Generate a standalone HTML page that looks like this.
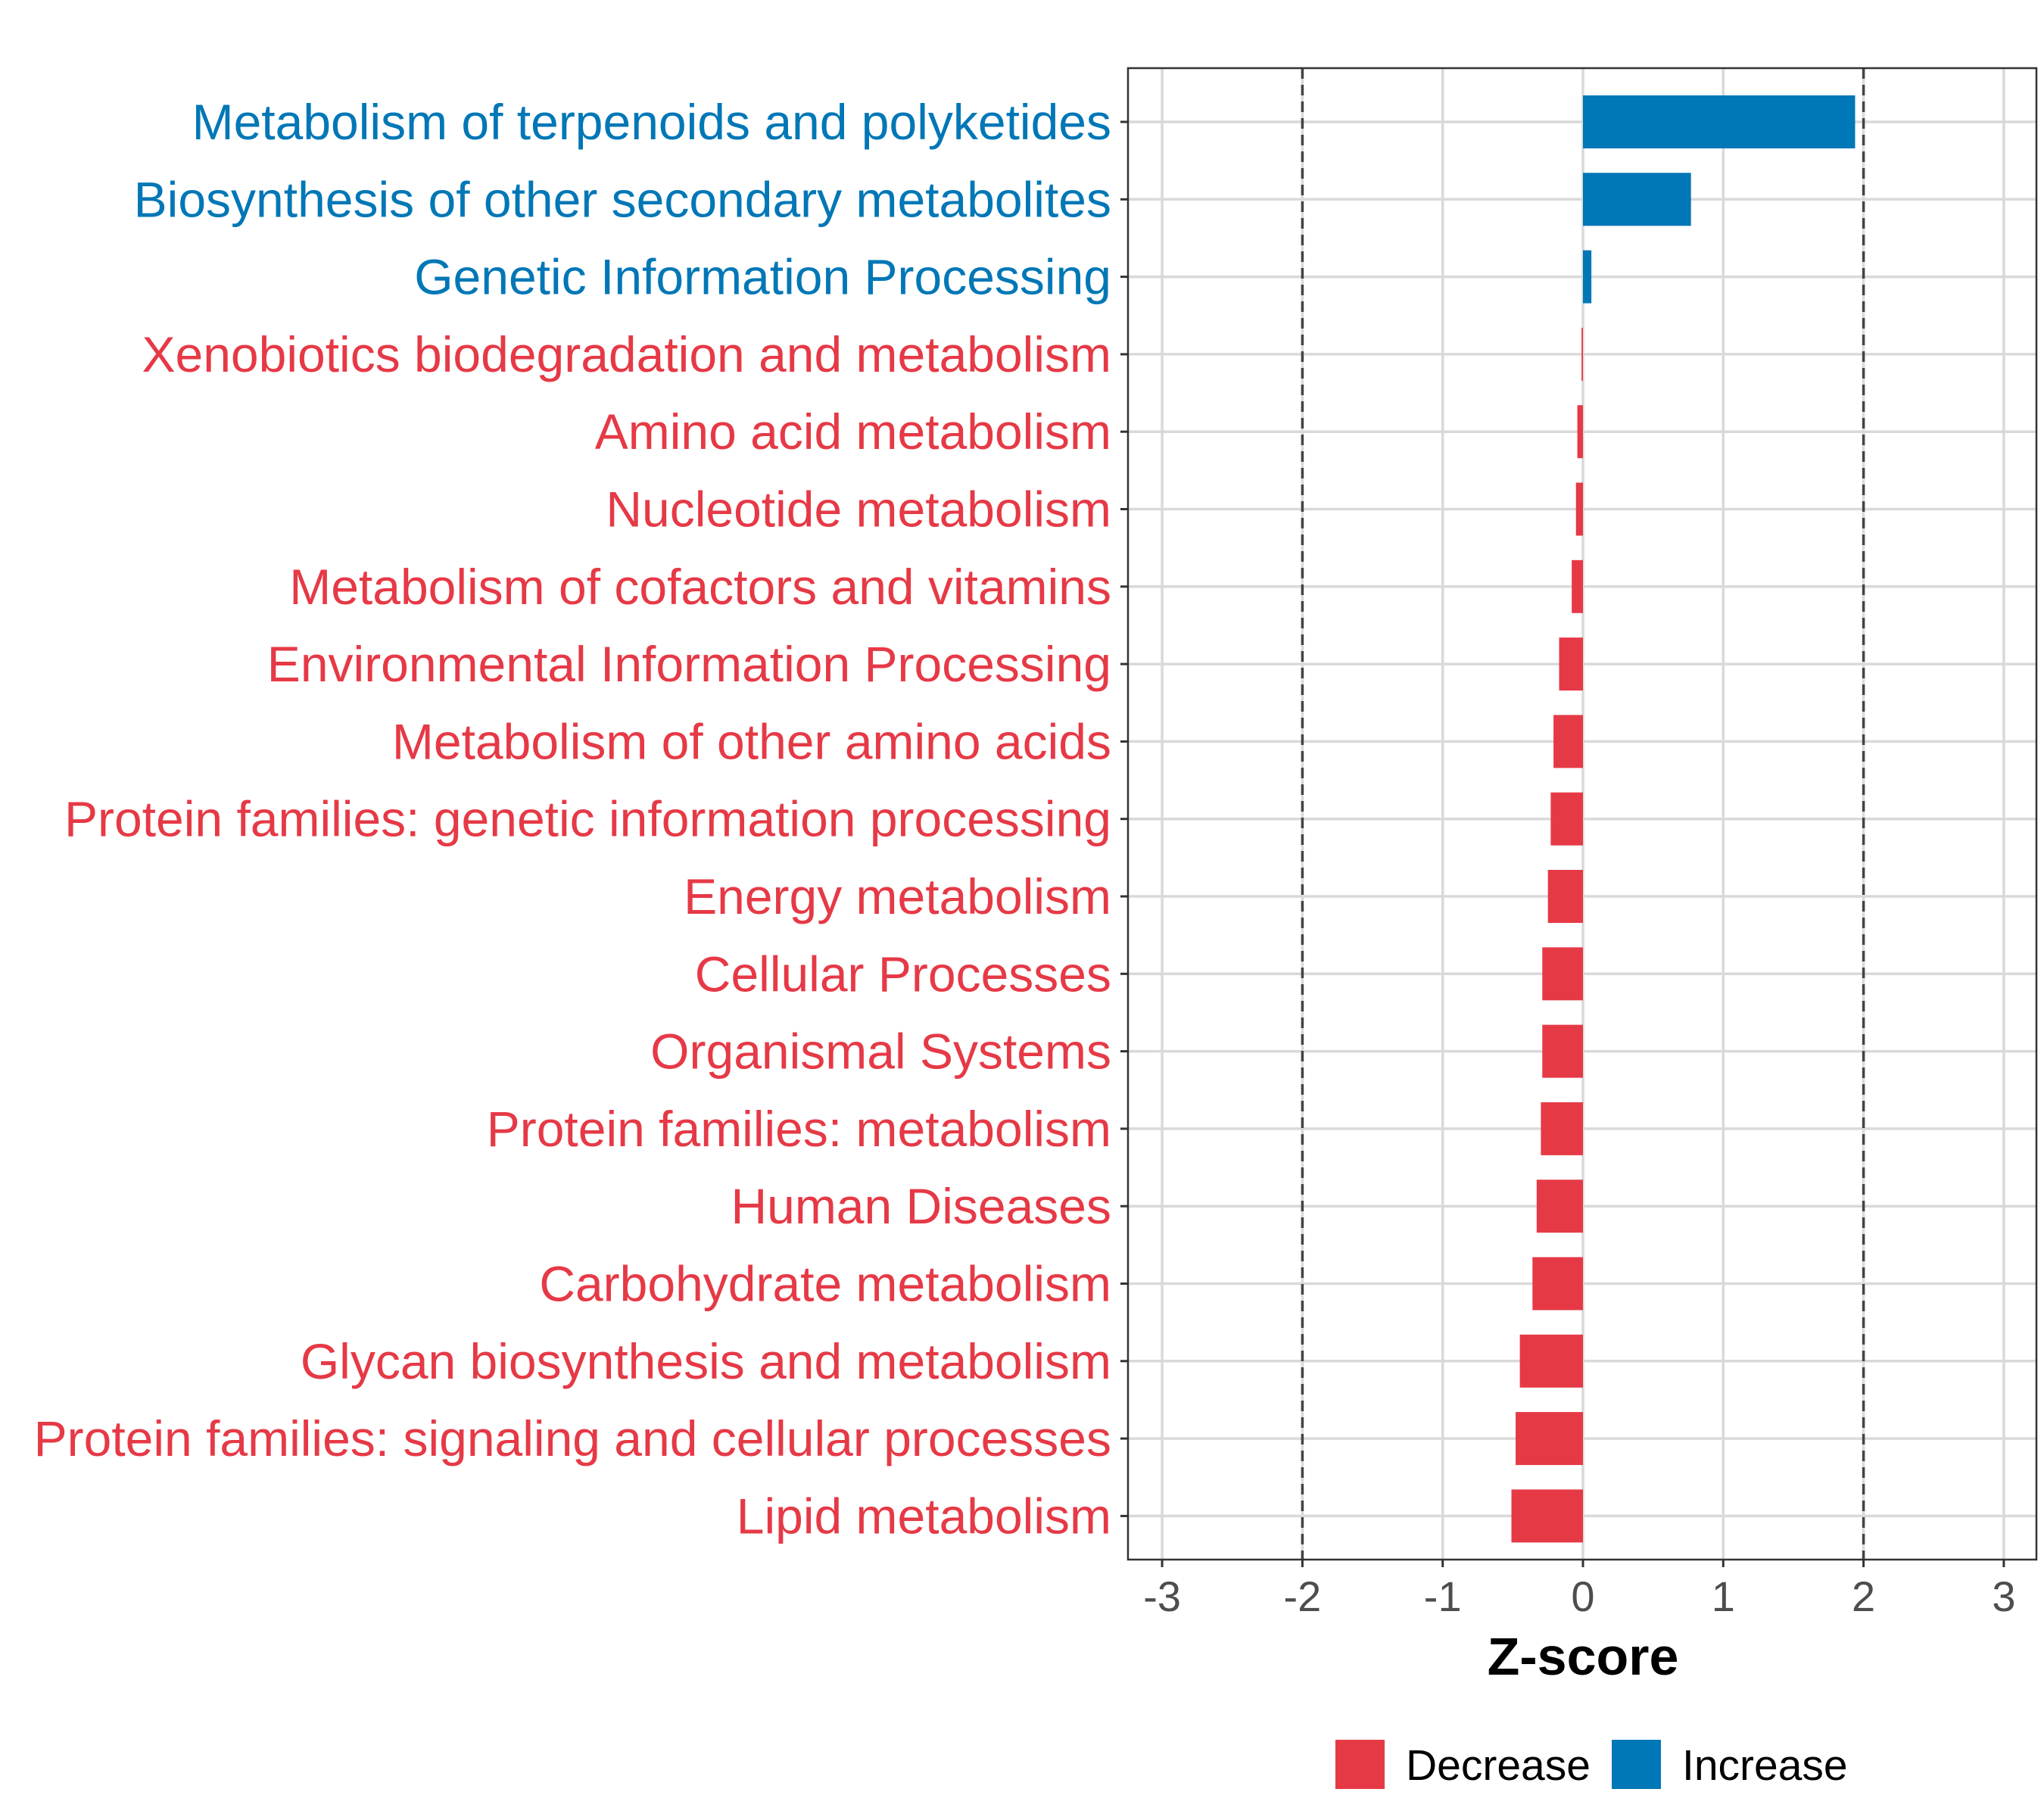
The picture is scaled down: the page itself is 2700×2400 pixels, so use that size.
<!DOCTYPE html>
<html><head><meta charset="utf-8"><style>
body{margin:0;background:#fff}
svg{display:block;font-family:"Liberation Sans",sans-serif}
</style></head><body>
<svg id="chart" width="2700" height="2400" viewBox="0 0 2700 2400"></svg>
<script>
const categories=["Metabolism of terpenoids and polyketides","Biosynthesis of other secondary metabolites","Genetic Information Processing","Xenobiotics biodegradation and metabolism","Amino acid metabolism","Nucleotide metabolism","Metabolism of cofactors and vitamins","Environmental Information Processing","Metabolism of other amino acids","Protein families: genetic information processing","Energy metabolism","Cellular Processes","Organismal Systems","Protein families: metabolism","Human Diseases","Carbohydrate metabolism","Glycan biosynthesis and metabolism","Protein families: signaling and cellular processes","Lipid metabolism"];
const zscores=[1.94,0.77,0.06,-0.01,-0.04,-0.05,-0.08,-0.17,-0.21,-0.23,-0.25,-0.29,-0.29,-0.30,-0.33,-0.36,-0.45,-0.48,-0.51];
const xTicks=[-3,-2,-1,0,1,2,3];
const thresholds=[-2,2];
const RED="#E63946",BLUE="#0077B6";
const NS="http://www.w3.org/2000/svg";
const svg=document.getElementById('chart');
const P={l:1490,r:2690,t:90,b:2060};
const x=v=>2091+v*185.3;
const y=i=>161+i*102.3;
function mk(t,a,p){const e=document.createElementNS(NS,t);for(const k in a)e.setAttribute(k,a[k]);(p||svg).appendChild(e);return e;}
xTicks.forEach(t=>{const g=mk('line',{x1:x(t),x2:x(t),y1:P.t,y2:P.b,stroke:'#d9d9d9','stroke-width':3.5});

});
categories.forEach((c,i)=>{const g=mk('line',{x1:P.l,x2:P.r,y1:y(i),y2:y(i),stroke:'#d9d9d9','stroke-width':3.5});

});
thresholds.forEach(t=>{const d=mk('line',{x1:x(t),x2:x(t),y1:P.t,y2:P.b,stroke:'#444','stroke-width':3.5,'stroke-dasharray':'14,8'});

});
zscores.forEach((v,i)=>{const x0=Math.min(x(0),x(v)),w=Math.abs(x(v)-x(0));
const b=mk('rect',{x:x0,y:y(i)-35,width:Math.max(w,1),height:70,fill:v>0?BLUE:RED});


const tk=mk('line',{x1:P.l-10,x2:P.l,y1:y(i),y2:y(i),stroke:'#333','stroke-width':3});


const t=mk('text',{x:P.l-22,y:y(i)+23,'text-anchor':'end','font-size':66,fill:v>0?BLUE:RED});
t.textContent=categories[i];

});
const br=mk('rect',{x:P.l,y:P.t,width:P.r-P.l,height:P.b-P.t,fill:'none',stroke:'#333','stroke-width':2.5});


xTicks.forEach(t=>{const tk=mk('line',{x1:x(t),x2:x(t),y1:P.b,y2:P.b+10,stroke:'#333','stroke-width':3});


const l=mk('text',{x:x(t),y:P.b+68,'text-anchor':'middle','font-size':56,fill:'#4d4d4d'});
l.textContent=t;

});
const xt=mk('text',{x:x(0),y:2212,'text-anchor':'middle','font-size':70,'font-weight':'bold',fill:'#000'});
xt.textContent='Z-score';


[[1764,RED,1857,'Decrease'],[2129,BLUE,2222,'Increase']].forEach(l=>{
const s=mk('rect',{x:l[0],y:2298,width:65,height:65,fill:l[1]});


const t=mk('text',{x:l[2],y:2351,'font-size':57,fill:'#000'});
t.textContent=l[3];

});
</script>
</body></html>
